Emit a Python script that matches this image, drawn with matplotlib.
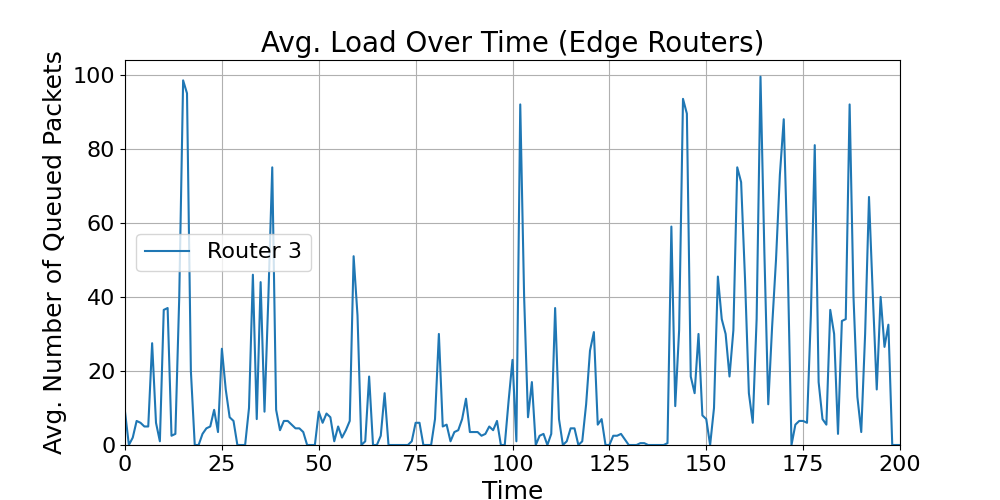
import matplotlib
matplotlib.use("Agg")
import matplotlib.pyplot as plt
import numpy as np

time = np.arange(0, 201)
router3 = [
    9, 0, 2, 6.5, 6, 5, 5, 27.5, 6, 1,
    36.5, 37, 2.5, 3, 40, 98.5, 95, 20, 0, 0,
    3, 4.5, 5, 9.5, 3.5, 26, 15, 7.5, 6.5, 0,
    0, 0, 10, 46, 7, 44, 9, 40, 75, 9.5,
    4, 6.5, 6.5, 5.5, 4.5, 4.5, 3.5, 0, 0, 0,
    9, 6, 8.5, 7.5, 1, 5, 2, 4, 6.5, 51,
    35, 0, 1, 18.5, 0, 0, 2.5, 14, 0, 0,
    0, 0, 0, 0, 1, 6, 6, 0, 0, 0,
    7, 30, 5, 5.5, 1, 3.5, 4, 7, 12.5, 3.5,
    3.5, 3.5, 2.5, 3, 5, 4, 6.5, 0, 0, 12,
    23, 1, 92, 40, 7.5, 17, 0, 2.5, 3, 0,
    3, 37, 7, 0, 1, 4.5, 4.5, 0, 1, 11,
    25.5, 30.5, 5.5, 7, 0, 0, 2.5, 2.5, 3, 1.5,
    0, 0, 0, 0.5, 0.5, 0, 0, 0, 0, 0,
    0.5, 59, 10.5, 31, 93.5, 89.5, 18.5, 14, 30, 8,
    7, 0, 10, 45.5, 34, 30, 18.5, 31, 75, 71,
    45, 14, 6, 34, 99.5, 52, 11, 32, 50, 73,
    88, 50, 0, 5.5, 6.5, 6.5, 6, 35, 81, 17,
    7, 5.5, 36.5, 30, 3, 33.5, 34, 92, 40, 13,
    3.5, 30, 67, 40, 15, 40, 26.5, 32.5, 0, 0,
    0,
]

fig, ax = plt.subplots(figsize=(10, 5), dpi=100)
ax.plot(time, router3, color="#1f77b4", linewidth=1.5, label="Router 3")
ax.set_xlim(0, 200)
ax.set_ylim(0, 104)
ax.set_title("Avg. Load Over Time (Edge Routers)", fontsize=20)
ax.set_xlabel("Time", fontsize=18)
ax.set_ylabel("Avg. Number of Queued Packets", fontsize=18)
ax.tick_params(labelsize=16)
ax.grid(True)
ax.legend(loc="center left", bbox_to_anchor=(0.0, 0.5), fontsize=16)
fig.subplots_adjust(left=0.125, right=0.9, bottom=0.11, top=0.88)
fig.savefig("out.png")
